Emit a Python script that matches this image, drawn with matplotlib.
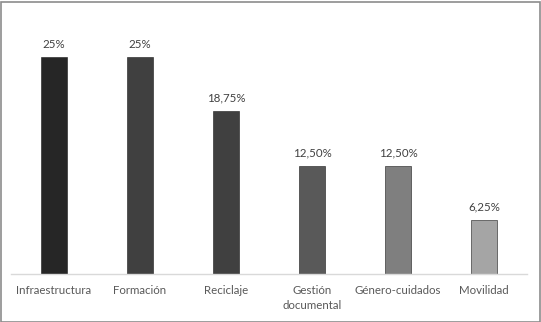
import matplotlib
matplotlib.use("Agg")
import matplotlib.pyplot as plt
from matplotlib.patches import Rectangle

categories = ["Infraestructura", "Formación", "Reciclaje", "Gestión\ndocumental", "Género-cuidados", "Movilidad"]
values = [25, 25, 18.75, 12.5, 12.5, 6.25]
value_labels = ["25%", "25%", "18,75%", "12,50%", "12,50%", "6,25%"]
colors = ["#262626", "#404040", "#404040", "#595959", "#7f7f7f", "#a5a5a5"]

plt.rcParams['font.family'] = ['Lato', 'DejaVu Sans']

W, H = 541, 322
fig = plt.figure(figsize=(W/100, H/100), dpi=100)
fig.patch.set_facecolor("white")
fig.add_artist(Rectangle((0.5/W, 0.5/H), 1 - 2/W, 1 - 2/H, transform=fig.transFigure,
                         fill=False, edgecolor="#8c8c8c", linewidth=1.2))

left, right = 11/W, 527/W
bottom = 1 - 274/H
top_px = 274 - 8.68*30
ax = fig.add_axes([left, bottom, right-left, (274-top_px)/H])
x = range(len(categories))
ax.bar(x, values, width=0.31, color=colors, edgecolor="#1a1a1a", linewidth=0.4)
ax.set_xlim(-0.5, len(categories)-0.5)
ax.set_ylim(0, 30)
for xi, v, lab in zip(x, values, value_labels):
    ax.text(xi, v + 0.85, lab, ha="center", va="bottom", fontsize=8.3, color="#404040")
ax.set_xticks(list(x))
ax.set_xticklabels(categories, fontsize=8.3, color="#595959", linespacing=1.4)
ax.tick_params(axis="x", length=0, pad=8)
ax.set_yticks([])
for s in ["top", "left", "right"]:
    ax.spines[s].set_visible(False)
ax.spines["bottom"].set_color("#d9d9d9")
ax.spines["bottom"].set_linewidth(1)
ax.set_facecolor("none")

fig.savefig("out.png", dpi=100)
